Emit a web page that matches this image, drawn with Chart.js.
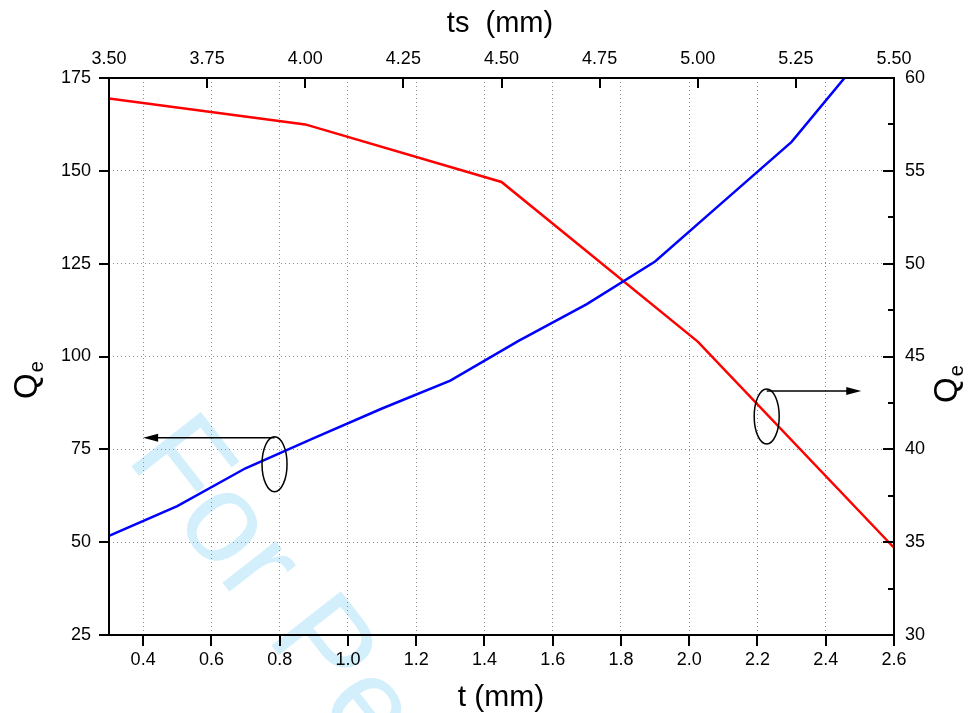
<!DOCTYPE html>
<html>
<head>
<meta charset="utf-8">
<script src="https://cdn.jsdelivr.net/npm/chart.js@4.4.1/dist/chart.umd.min.js"></script>
<style>
  html, body { margin: 0; padding: 0; background: #fff; }
  canvas { display: block; }
</style>
</head>
<body>
<canvas id="qeChart" width="969" height="713"></canvas>
<script>
// blue curve: Qe against t (bottom / left axes)
const tValues = [0.3, 0.5, 0.7, 0.9, 1.1, 1.3, 1.5, 1.7, 1.9, 2.1, 2.3, 2.5];
const blueQe = [51.7, 59.7, 69.9, 78.0, 86.0, 93.5, 104.2, 114.1, 125.6, 141.7, 157.8, 180.0];

// red curve: Qe against ts (top / right axes)
const tsValues = [3.5, 4.0, 4.5, 5.0, 5.5];
const redQe = [58.9, 57.5, 54.4, 45.8, 34.7];

// tick labels
const tTicks = [0.4, 0.6, 0.8, 1.0, 1.2, 1.4, 1.6, 1.8, 2.0, 2.2, 2.4, 2.6];
const tsTicks = [3.5, 3.75, 4.0, 4.25, 4.5, 4.75, 5.0, 5.25, 5.5];
const leftTicks = [25, 50, 75, 100, 125, 150, 175];
const rightTicks = [30, 35, 40, 45, 50, 55, 60];
const rightMinor = [32.5, 37.5, 42.5, 47.5, 52.5, 57.5];

const FONT = '"Liberation Sans", Arial, sans-serif';
const tickFont = { family: FONT, size: 18 };

const setTicks = (list) => (scale) => {
  scale.ticks = list.map((v) => ({ value: v }));
};

const chartDecor = {
  id: "chartDecor",
  beforeDraw(chart) {
    const ctx = chart.ctx;
    ctx.save();
    ctx.fillStyle = "#fff";
    ctx.fillRect(0, 0, chart.width, chart.height);
    // watermark
    ctx.translate(125, 458);
    ctx.rotate((52 * Math.PI) / 180);
    ctx.font = "128px " + FONT;
    ctx.fillStyle = "#d3effc";
    ctx.fillText("For Peer Review", 0, 0);
    ctx.restore();
  },
  afterDraw(chart) {
    const ctx = chart.ctx;
    const { left, right, top, bottom } = chart.chartArea;
    const sx = chart.scales.x;
    const sx2 = chart.scales.x2;
    const sy = chart.scales.y;
    const sy2 = chart.scales.y2;

    ctx.save();
    ctx.strokeStyle = "#000";
    ctx.lineWidth = 2;
    ctx.lineCap = "square";
    ctx.strokeRect(left, top, right - left, bottom - top);

    ctx.lineCap = "butt";
    ctx.beginPath();
    leftTicks.forEach((v) => {
      const y = Math.round(sy.getPixelForValue(v));
      ctx.moveTo(left - 10, y);
      ctx.lineTo(left, y);
    });
    tTicks.forEach((v) => {
      const x = Math.round(sx.getPixelForValue(v));
      ctx.moveTo(x, bottom);
      ctx.lineTo(x, bottom + 11);
    });
    tsTicks.forEach((v) => {
      const x = Math.round(sx2.getPixelForValue(v));
      ctx.moveTo(x, top);
      ctx.lineTo(x, top + 10);
    });
    rightTicks.forEach((v) => {
      const y = Math.round(sy2.getPixelForValue(v));
      ctx.moveTo(right - 11, y);
      ctx.lineTo(right, y);
    });
    rightMinor.forEach((v) => {
      const y = Math.round(sy2.getPixelForValue(v));
      ctx.moveTo(right - 6, y);
      ctx.lineTo(right, y);
    });
    ctx.stroke();

    // axis titles
    ctx.fillStyle = "#000";
    ctx.textBaseline = "alphabetic";
    ctx.textAlign = "center";
    ctx.font = "29px " + FONT;
    ctx.fillText("ts  (mm)", 500, 32);
    ctx.font = "30px " + FONT;
    ctx.fillText("t (mm)", 501, 706);

    const drawQe = (baseX, startY) => {
      ctx.save();
      ctx.translate(baseX, startY);
      ctx.rotate(-Math.PI / 2);
      ctx.textAlign = "left";
      ctx.font = "33px " + FONT;
      ctx.fillText("Q", 0, 0);
      const w = ctx.measureText("Q").width;
      ctx.font = "20px " + FONT;
      ctx.fillText("e", w + 1, 6);
      ctx.restore();
    };
    drawQe(37, 399);
    drawQe(957, 403);

    // ellipse + arrow markers
    const marker = (cx, cy, tipX, arrowY) => {
      ctx.lineWidth = 1.5;
      ctx.beginPath();
      ctx.ellipse(cx, cy, 12.5, 27.5, 0, 0, Math.PI * 2);
      ctx.stroke();
      const dir = Math.sign(tipX - cx);
      ctx.beginPath();
      ctx.moveTo(cx, arrowY);
      ctx.lineTo(tipX - dir * 12, arrowY);
      ctx.stroke();
      ctx.beginPath();
      ctx.moveTo(tipX, arrowY);
      ctx.lineTo(tipX - dir * 15, arrowY - 4);
      ctx.lineTo(tipX - dir * 15, arrowY + 4);
      ctx.closePath();
      ctx.fill();
    };
    marker(
      sx.getPixelForValue(0.785), sy.getPixelForValue(71.0),
      sx.getPixelForValue(0.4), sy.getPixelForValue(78.1)
    );
    marker(
      sx.getPixelForValue(2.227), sy2.getPixelForValue(41.77),
      sx.getPixelForValue(2.504), sy2.getPixelForValue(43.14)
    );
    ctx.restore();
  },
};

const ctx = document.getElementById("qeChart").getContext("2d");
const qeChart = new Chart(ctx, {
  type: "line",
  data: {
    datasets: [
      {
        label: "Qe vs t",
        data: tValues.map((t, i) => ({ x: t, y: blueQe[i] })),
        xAxisID: "x",
        yAxisID: "y",
        borderColor: "#0000ff",
        borderWidth: 2.5,
        pointRadius: 0,
        tension: 0,
      },
      {
        label: "Qe vs ts",
        data: tsValues.map((t, i) => ({ x: t, y: redQe[i] })),
        xAxisID: "x2",
        yAxisID: "y2",
        borderColor: "#ff0000",
        borderWidth: 2.5,
        pointRadius: 0,
        tension: 0,
      },
    ],
  },
  options: {
    responsive: false,
    animation: false,
    layout: { padding: 0 },
    plugins: {
      legend: { display: false },
      tooltip: { enabled: false },
    },
    scales: {
      x: {
        type: "linear",
        position: "bottom",
        min: 0.3,
        max: 2.6,
        afterBuildTicks: setTicks(tTicks),
        afterFit: (s) => { s.height = 78; },
        grid: { color: "#8c8c8c", lineWidth: 1, drawTicks: false },
        border: { display: false, dash: [1, 3] },
        ticks: {
          font: tickFont, color: "#000", padding: 14, maxRotation: 0, autoSkip: false,
          callback: (v) => Number(v).toFixed(1),
        },
      },
      x2: {
        type: "linear",
        position: "top",
        min: 3.5,
        max: 5.5,
        afterBuildTicks: setTicks(tsTicks),
        afterFit: (s) => { s.height = 78; },
        grid: { display: false, drawTicks: false },
        border: { display: false },
        ticks: {
          font: tickFont, color: "#000", padding: 8, maxRotation: 0, autoSkip: false,
          callback: (v) => Number(v).toFixed(2),
        },
      },
      y: {
        type: "linear",
        position: "left",
        min: 25,
        max: 175,
        afterBuildTicks: setTicks(leftTicks),
        afterFit: (s) => { s.width = 109; },
        grid: { color: "#8c8c8c", lineWidth: 1, drawTicks: false },
        border: { display: false, dash: [1, 3] },
        ticks: { font: tickFont, color: "#000", padding: 18 },
      },
      y2: {
        type: "linear",
        position: "right",
        min: 30,
        max: 60,
        afterBuildTicks: setTicks(rightTicks),
        afterFit: (s) => { s.width = 75; },
        grid: { display: false, drawTicks: false },
        border: { display: false },
        ticks: { font: tickFont, color: "#000", padding: 11 },
      },
    },
  },
  plugins: [chartDecor],
});
</script>
</body>
</html>
